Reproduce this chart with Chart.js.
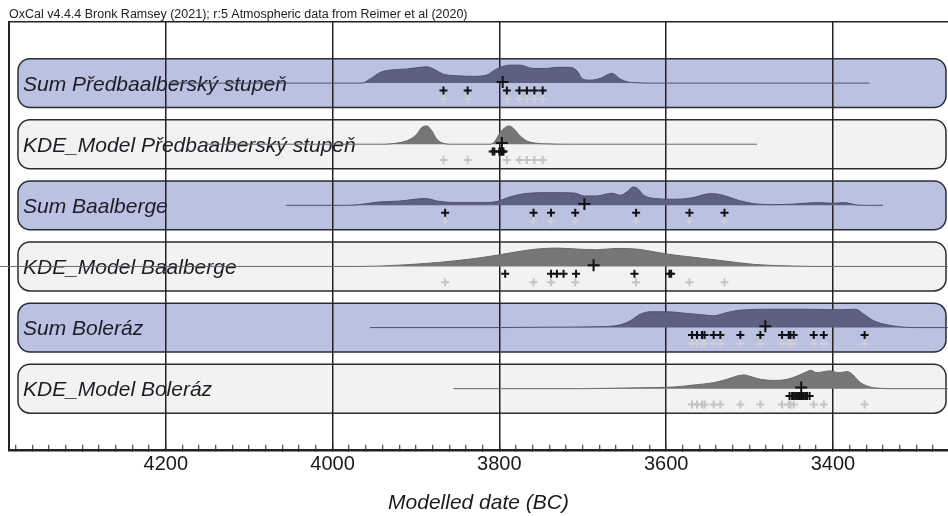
<!DOCTYPE html>
<html>
<head>
<meta charset="utf-8">
<script src="https://cdn.jsdelivr.net/npm/chart.js@4.4.1/dist/chart.umd.min.js"></script>
<style>
  html, body { margin: 0; padding: 0; background: #fff; }
  #wrap { width: 948px; height: 516px; }
</style>
</head>
<body>
<div id="wrap"><canvas id="oxcal-chart"></canvas></div>
<script>
const FONT = '"Liberation Sans", Arial, sans-serif';

const rowLabels = ['Sum Předbaalberský stupeň', 'KDE_Model Předbaalberský stupeň', 'Sum Baalberge',
    'KDE_Model Baalberge', 'Sum Boleráz', 'KDE_Model Boleráz'];
const rowIsSum = [true, false, true, false, true, false];
const rangeStart = [4195, 4153, 4056, 4399, 3955, 3855];
const rangeEnd = [3356, 3491, 3340, 3262, 3262, 3262];

// relative probability density (peak = 100), years BC
const densYears1 = [3965, 3955, 3943, 3931, 3911, 3895, 3887, 3879, 3867, 3851, 3831, 3815, 3807, 3799, 3787, 3775, 3760, 3743, 3731, 3715, 3707, 3700, 3691, 3679, 3665, 3655, 3647, 3635, 3625];
const densValues1 = [0, 22, 58, 71, 77, 86, 89, 77, 49, 40, 37, 44, 67, 86, 98, 98, 80, 80, 86, 86, 67, 22, 16, 26, 53, 22, 7, 2, 0];
const densYears2 = [3943, 3919, 3907, 3899, 3893, 3887, 3881, 3875, 3867, 3856, 3811, 3805, 3799, 3793, 3789, 3783, 3775, 3767, 3755, 3743, 3712];
const densValues2 = [0, 9, 27, 55, 91, 100, 73, 27, 5, 0, 0, 18, 64, 91, 100, 86, 45, 18, 5, 2, 0];
const densYears3 = [3985, 3968, 3945, 3921, 3888, 3873, 3850, 3816, 3802, 3788, 3769, 3750, 3731, 3710, 3698, 3684, 3665, 3655, 3646, 3640, 3634, 3627, 3613, 3589, 3570, 3546, 3532, 3513, 3494, 3470, 3447, 3418, 3399, 3387, 3371, 3360];
const densValues3 = [0, 4, 18, 23, 37, 22, 15, 15, 22, 45, 64, 69, 69, 67, 51, 51, 66, 55, 77, 100, 91, 55, 37, 33, 40, 64, 55, 27, 9, 4, 7, 15, 11, 15, 2, 0];
const densYears4 = [3968, 3921, 3873, 3835, 3802, 3779, 3755, 3731, 3707, 3684, 3660, 3636, 3622, 3598, 3565, 3532, 3494, 3447, 3423];
const densValues4 = [0, 7, 22, 40, 62, 80, 95, 100, 95, 91, 98, 95, 86, 67, 49, 31, 11, 2, 0];
const densYears5 = [3800, 3751, 3679, 3655, 3643, 3631, 3619, 3599, 3575, 3555, 3543, 3527, 3511, 3471, 3431, 3391, 3373, 3363, 3351, 3335, 3319, 3303];
const densValues5 = [0, 2, 5, 15, 37, 73, 86, 86, 77, 69, 64, 82, 95, 100, 100, 97, 100, 73, 37, 15, 4, 0];
const densYears6 = [3700, 3671, 3631, 3591, 3567, 3543, 3527, 3515, 3507, 3497, 3487, 3471, 3455, 3443, 3431, 3427, 3419, 3411, 3403, 3393, 3383, 3379, 3367, 3355, 3343, 3327];
const densValues6 = [0, 2, 5, 9, 20, 33, 51, 69, 75, 64, 51, 45, 51, 69, 93, 100, 87, 93, 97, 87, 93, 87, 33, 9, 2, 0];

// individual dates (crosses)
const datedPre = [3867, 3838, 3791, 3776, 3767, 3758, 3748];
const kdePre = [3808, 3806, 3800, 3798, 3797, 3796, 3795];
const datedBaal = [3865, 3759, 3738, 3709, 3636, 3572, 3530];
const kdeBaal = [3793, 3738, 3731, 3723, 3708, 3638, 3596, 3594];
const datedBol = [3569, 3563, 3557, 3554, 3543, 3535, 3511, 3487, 3461, 3453, 3451, 3447, 3423, 3411, 3362];
const kdeBol = [3452, 3449, 3447, 3445, 3443, 3441, 3440, 3439, 3438, 3437, 3436, 3435, 3433, 3431, 3428];
const centreYears = [3796, 3797, 3698, 3687, 3481, 3438];

const majorTicks = [4200, 4000, 3800, 3600, 3400];
const minorStep = 20;

const densYears = [densYears1, densYears2, densYears3, densYears4, densYears5, densYears6];
const densValues = [densValues1, densValues2, densValues3, densValues4, densValues5, densValues6];
const blackYears = [datedPre, kdePre, datedBaal, kdeBaal, datedBol, kdeBol];
const greyYears = [datedPre, datedPre, datedBaal, datedBaal, datedBol, datedBol];

const PEAK = 0.30;   // peak height in row units
const rowBase = i => 6 - i;

const datasets = [];
for (let i = 0; i < 6; i++) {
    const base = rowBase(i);
    const pts = [{x: rangeStart[i], y: base}];
    densYears[i].forEach((yr, k) => pts.push({x: yr, y: base + densValues[i][k] / 100 * PEAK}));
    pts.push({x: rangeEnd[i], y: base});
    datasets.push({
        data: pts,
        fill: {value: base},
        backgroundColor: rowIsSum[i] ? 'rgb(92,97,130)' : 'rgb(118,118,118)',
        borderColor: rowIsSum[i] ? 'rgb(78,82,108)' : 'rgb(105,105,105)',
        borderWidth: 1,
        pointRadius: 0,
        cubicInterpolationMode: 'monotone',
        clip: false,
        order: 3
    });
    datasets.push({
        data: greyYears[i].map(yr => ({x: yr, y: base - 0.26})),
        showLine: false,
        pointStyle: 'cross',
        pointRadius: 4,
        pointBorderWidth: 2,
        pointBorderColor: rowIsSum[i] ? 'rgb(205,206,214)' : 'rgb(196,196,196)',
        order: 2
    });
    datasets.push({
        data: blackYears[i].map(yr => ({x: yr, y: base - 0.12})),
        showLine: false,
        pointStyle: 'cross',
        pointRadius: 4,
        pointBorderWidth: 2,
        pointBorderColor: '#111',
        order: 1
    });
    datasets.push({
        data: [{x: centreYears[i], y: base + 0.02}],
        showLine: false,
        pointStyle: 'cross',
        pointRadius: 6,
        pointBorderWidth: 2,
        pointBorderColor: '#111',
        order: 0
    });
}

const minorTicks = [];
for (let v = 3280; v <= 4380; v += minorStep) minorTicks.push(v);

const rowBoxes = {
    id: 'rowBoxes',
    beforeDraw(chart) {
        const {ctx, chartArea, scales: {y}} = chart;
        const left = chartArea.left + 9, right = chartArea.right - 2, r = 12;
        ctx.save();
        for (let i = 0; i < 6; i++) {
            const base = rowBase(i);
            const top = y.getPixelForValue(base + 0.4);
            const bottom = y.getPixelForValue(base - 0.4);
            ctx.beginPath();
            ctx.roundRect(left, top, right - left, bottom - top, r);
            ctx.fillStyle = rowIsSum[i] ? 'rgb(186,193,225)' : 'rgb(242,242,241)';
            ctx.fill();
            ctx.lineWidth = 1.5;
            ctx.strokeStyle = '#2b2b33';
            ctx.stroke();
            ctx.fillStyle = '#1c1c26';
            ctx.font = 'italic 21px ' + FONT;
            ctx.textBaseline = 'alphabetic';
            ctx.fillText(rowLabels[i], left + 5, y.getPixelForValue(base) + 7.5);
        }
        ctx.restore();
    }
};

new Chart(document.getElementById('oxcal-chart'), {
    type: 'line',
    data: {datasets: datasets},
    plugins: [rowBoxes],
    options: {
        responsive: true,
        maintainAspectRatio: false,
        animation: false,
        events: [],
        layout: {autoPadding: false, padding: {left: 9, right: 0, top: 0, bottom: 0}},
        plugins: {
            legend: {display: false},
            tooltip: {enabled: false},
            title: {
                display: true,
                text: 'OxCal v4.4.4 Bronk Ramsey (2021); r:5 Atmospheric data from Reimer et al (2020)',
                align: 'start',
                color: '#222',
                font: {family: FONT, size: 12.5, weight: 'normal'},
                padding: {top: 7, bottom: 0}
            }
        },
        scales: {
            x: {
                type: 'linear',
                reverse: true,
                min: 3262,
                max: 4388,
                afterBuildTicks: s => { s.ticks = minorTicks.map(v => ({value: v})); },
                ticks: {
                    autoSkip: false,
                    maxRotation: 0,
                    padding: 8,
                    color: '#1a1a1a',
                    font: {family: FONT, size: 20},
                    callback: v => majorTicks.includes(v) ? String(v) : ''
                },
                grid: {
                    color: c => (c.tick && majorTicks.includes(c.tick.value)) ? '#222' : 'rgba(0,0,0,0)',
                    lineWidth: 1.5,
                    tickColor: '#222',
                    tickLength: -5,
                    tickWidth: 1
                },
                border: {color: '#222', width: 2.5},
                title: {
                    display: true,
                    text: 'Modelled date (BC)',
                    color: '#1a1a1a',
                    font: {family: FONT, size: 21, style: 'italic'},
                    padding: {top: 6, bottom: 0}
                }
            },
            x2: {
                type: 'linear',
                position: 'top',
                reverse: true,
                min: 3262,
                max: 4388,
                ticks: {display: false},
                grid: {drawOnChartArea: false, drawTicks: false},
                border: {color: '#222', width: 1.5}
            },
            y: {
                type: 'linear',
                min: 0,
                max: 7,
                ticks: {display: false},
                grid: {drawOnChartArea: false, drawTicks: false},
                border: {color: '#222', width: 2}
            }
        }
    }
});
</script>
</body>
</html>
